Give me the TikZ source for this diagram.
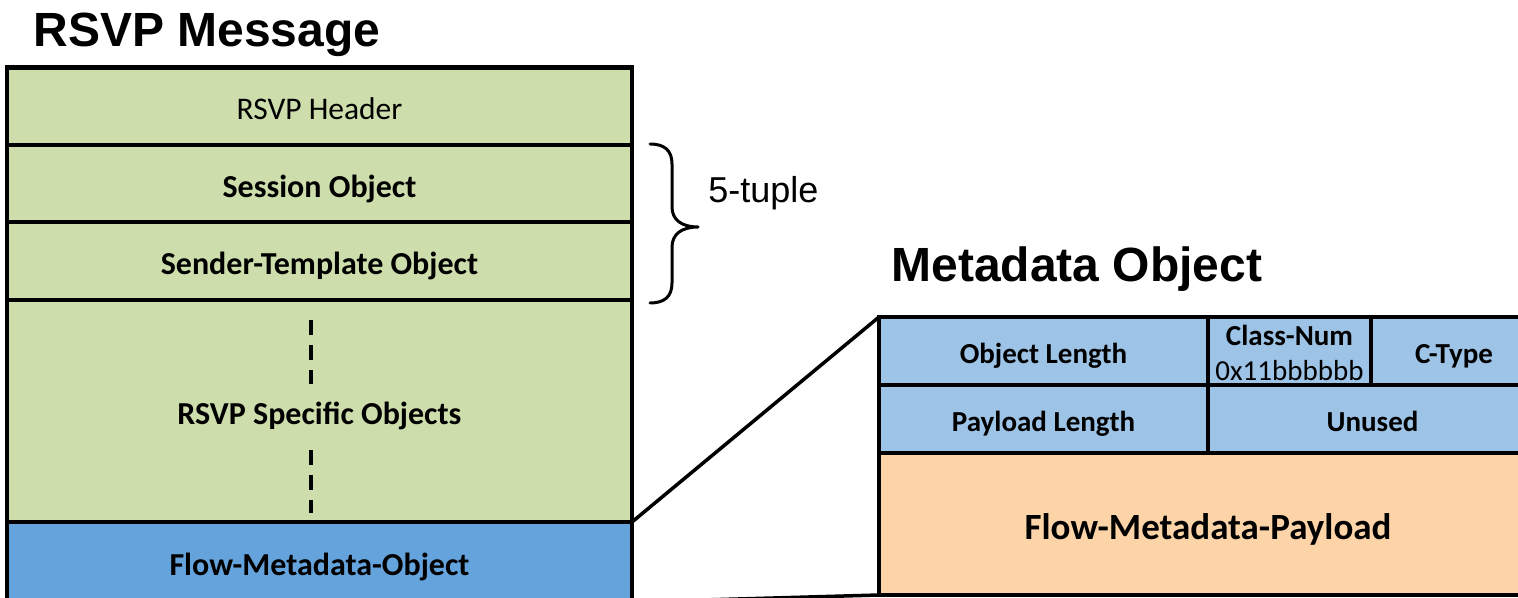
\documentclass[tikz,border=0pt]{standalone}
\usepackage{fontspec}
\setmainfont{Carlito}
\newfontfamily\arialf{Liberation Sans}
\definecolor{rowgreen}{HTML}{CDDDAC}
\definecolor{rowblue}{HTML}{65A3DC}
\definecolor{cellblue}{HTML}{9DC3E6}
\definecolor{cellorange}{HTML}{FDD4A7}
\tikzset{
  cell/.style={draw=black, line width=2.25pt, inner sep=0pt, outer sep=0pt, align=center},
  lefttext/.style={font=\fontsize{16}{19}\selectfont\bfseries, text height=13.8pt, text depth=0pt},
  hdrtext/.style={font=\fontsize{15.75}{19}\selectfont, text height=13.4pt, text depth=0pt},
  metatext/.style={font=\fontsize{14.5}{17.5}\selectfont\bfseries, text height=12.4pt, text depth=0pt},
  paytext/.style={font=\fontsize{18.5}{22}\selectfont\bfseries, text height=15.8pt, text depth=0pt},
  baselabel/.style={inner sep=0pt, anchor=base},
  title/.style={font=\arialf\fontsize{24}{28}\selectfont\bfseries, inner sep=0pt, anchor=base west},
  zoomline/.style={line width=1.75pt, black},
  bracestyle/.style={line width=1.5pt, black, line cap=round, line join=round},
  dots/.style={line width=2pt, dash pattern=on 7.5pt off 5pt}
}
\begin{document}
\begin{tikzpicture}[x=0.5pt, y=-0.5pt]
\useasboundingbox (0,0) rectangle (1518,598);
\clip (0,0) rectangle (1518,598);
% titles
\node[title] (t1) at (33,47) {RSVP Message};
\node[title] (t2) at (891,282) {Metadata Object};
% left column rows
\node[cell, fill=rowgreen, hdrtext, minimum width=312.5pt, minimum height=38.75pt] (hdr) at (319.5,106.25) {RSVP Header};
\node[cell, fill=rowgreen, lefttext, minimum width=312.5pt, minimum height=38.5pt] (sess) at (319.5,183.5) {Session Object};
\node[cell, fill=rowgreen, lefttext, minimum width=312.5pt, minimum height=39pt] (send) at (319.5,261) {Sender-Template Object};
\node[cell, fill=rowgreen, lefttext, minimum width=312.5pt, minimum height=111pt] (spec) at (319.5,411) {RSVP Specific Objects};
\node[cell, fill=rowblue, lefttext, minimum width=312.5pt, minimum height=40pt] (flow) at (319.5,562) {Flow-Metadata-Object};
% dashed lines
\coordinate (d1a) at (311,320);
\coordinate (d1b) at (311,384);
\coordinate (d2a) at (311,450);
\coordinate (d2b) at (311,513);
\draw[dots] (d1a) -- (d1b);
\draw[dots] (d2a) -- (d2b);
% brace
\draw[bracestyle] (650,144) .. controls (664,144) and (672,150) .. (672,164)
  -- (672,207) .. controls (672,220) and (682,227) .. (698,227)
  .. controls (682,227) and (672,234) .. (672,247)
  -- (672,283) .. controls (672,297) and (664,303) .. (650,303);
\node[font=\arialf\fontsize{18}{22}\selectfont, inner sep=0pt, anchor=base west] (tuple) at (708,203) {5-tuple};
% metadata object cells
\node[cell, fill=cellblue, metatext, minimum width=164.5pt, minimum height=34pt] (olen) at (1043.5,351) {Object Length};
\node[cell, fill=cellblue, minimum width=81.5pt, minimum height=34pt] (cnum) at (1289.5,351) {};
\node[baselabel, font=\fontsize{14.5}{17.5}\selectfont\bfseries] (cnumlabel) at (1289.5,345) {Class-Num};
\node[baselabel, font=\fontsize{14.5}{17.5}\selectfont] (cnumval) at (1289.5,380) {0x11bbbbbb};
\node[cell, fill=cellblue, metatext, minimum width=83pt, minimum height=34pt] (ctype) at (1454,351) {C-Type};
\node[cell, fill=cellblue, metatext, minimum width=164.5pt, minimum height=34pt] (plen) at (1043.5,419) {Payload Length};
\node[cell, fill=cellblue, metatext, minimum width=164.5pt, minimum height=34pt] (unused) at (1372.5,419) {Unused};
\node[cell, fill=cellorange, paytext, minimum width=329pt, minimum height=71pt] (pay) at (1208,524) {Flow-Metadata-Payload};
% zoom lines
\draw[zoomline] (flow.north east) -- (olen.north west);
\draw[zoomline] (flow.south east) -- (pay.south west);
\end{tikzpicture}
\end{document}
